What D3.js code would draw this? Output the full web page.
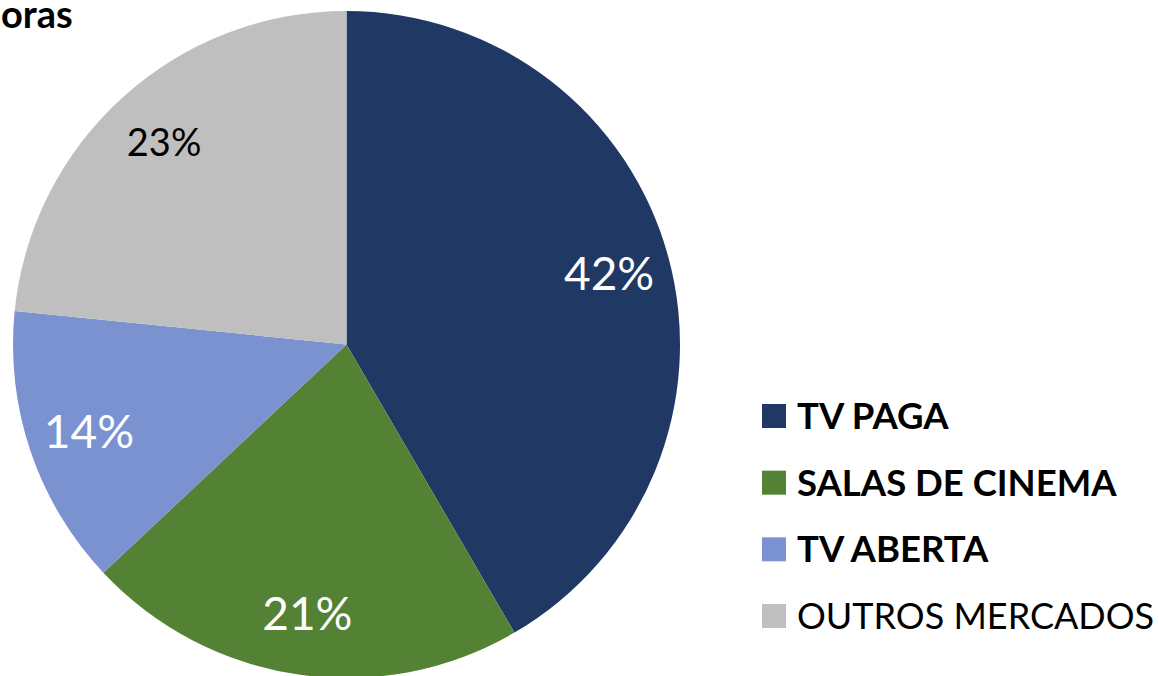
<!DOCTYPE html>
<html>
<head>
<meta charset="utf-8">
<script src="https://cdn.jsdelivr.net/npm/d3@7"></script>
<style>
  html, body { margin: 0; padding: 0; background: #fff; }
  svg { display: block; font-family: Lato, "Open Sans", sans-serif; }
</style>
</head>
<body>
<div id="chart"></div>
<script>
// Data
const categories = ["TV PAGA", "SALAS DE CINEMA", "TV ABERTA", "OUTROS MERCADOS"];
const shares = [41.6, 21.4, 13.6, 23.4];
const colors = ["#203864", "#548235", "#7A92CF", "#BFBFBF"];
const labelColors = ["#ffffff", "#ffffff", "#ffffff", "#000000"];
const boldLegend = [true, true, true, false];
const titleText = "oras";

const width = 1159;
const height = 676;
const cx = 346.5;
const cy = 344.5;
const radius = 333.5;

const svg = d3
  .select("#chart")
  .append("svg")
  .attr("width", width)
  .attr("height", height);

// Title (only its tail is visible in the original)
svg
  .append("text")
  .attr("x", 1)
  .attr("y", 28)
  .style("font-size", "38px")
  .style("font-weight", "bold")
  .text(titleText);

const data = categories.map((c, i) => ({ name: c, value: shares[i], i }));

const pie = d3.pie().sort(null).value((d) => d.value);
const arcs = pie(data);

const arc = d3.arc().innerRadius(0).outerRadius(radius);
const labelArc = d3.arc().innerRadius(272).outerRadius(272);

const g = svg.append("g").attr("transform", `translate(${cx}, ${cy})`);

g.selectAll("path")
  .data(arcs)
  .join("path")
  .attr("d", arc)
  .attr("fill", (d) => colors[d.data.i]);

// Percentage labels
const pct = d3.format(".0%");
g.selectAll(".slice-label")
  .data(arcs)
  .join("text")
  .attr("class", "slice-label")
  .attr("transform", (d) => `translate(${labelArc.centroid(d)})`)
  .attr("text-anchor", "middle")
  .attr("dy", "0.36em")
  .style("font-size", (d) => (d.data.i === 3 ? "38px" : "46px"))
  .attr("fill", (d) => labelColors[d.data.i])
  .text((d) => pct(d.data.value / 100));

// Legend
const legendY = d3.scalePoint().domain(categories).range([416, 616]);

const legend = svg
  .append("g")
  .selectAll(".legend-item")
  .data(data)
  .join("g")
  .attr("class", "legend-item")
  .attr("transform", (d) => `translate(762, ${legendY(d.name)})`);

legend
  .append("rect")
  .attr("y", -12)
  .attr("width", 24)
  .attr("height", 24)
  .attr("fill", (d) => colors[d.i]);

legend
  .append("text")
  .attr("x", 35)
  .attr("dy", "0.36em")
  .style("font-size", (d) => (boldLegend[d.i] ? "36.5px" : "36px"))
  .style("font-weight", (d) => (boldLegend[d.i] ? "bold" : "normal"))
  .text((d) => d.name);
</script>
</body>
</html>
